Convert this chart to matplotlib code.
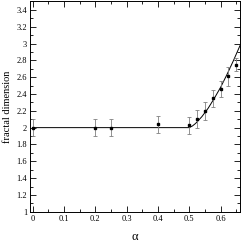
import numpy as np
import matplotlib
matplotlib.use('Agg')
import matplotlib.pyplot as plt
from matplotlib.ticker import MultipleLocator, FuncFormatter

plt.rcParams['font.family'] = ['Liberation Serif', 'DejaVu Serif']

# measured points
alpha = [0.0, 0.2, 0.25, 0.4, 0.5, 0.525, 0.55, 0.575, 0.6, 0.625, 0.65]
dim = [2.0, 2.0, 2.0, 2.04, 2.03, 2.10, 2.20, 2.35, 2.46, 2.61, 2.75]
dim_err = [0.1, 0.1, 0.1, 0.1, 0.1, 0.11, 0.11, 0.1, 0.1, 0.11, 0.08]

# fitted curve
line_alpha = [0.0, 0.5, 0.51, 0.52, 0.54, 0.56, 0.58, 0.60, 0.62, 0.64, 0.66, 0.665]
line_dim = [2.0, 2.0, 2.02, 2.05, 2.13, 2.23, 2.35, 2.48, 2.63, 2.79, 2.96, 3.0]

fig = plt.figure(figsize=(2.42, 2.42), dpi=100)
ax = fig.add_axes([0.124, 0.125, 0.868, 0.869])

ax.plot(line_alpha, line_dim, color='black', lw=0.7)
ax.errorbar(alpha, dim, yerr=dim_err, fmt='s', ms=1.6, color='black',
            ecolor='#808080', elinewidth=0.6, capsize=1.5, capthick=0.6)

ax.set_xlim(-0.0086, 0.662)
ax.set_ylim(1.0, 3.5)

ax.xaxis.set_major_locator(MultipleLocator(0.1))
ax.xaxis.set_minor_locator(MultipleLocator(0.05))
ax.yaxis.set_major_locator(MultipleLocator(0.2))
ax.yaxis.set_minor_locator(MultipleLocator(0.1))
ax.xaxis.set_major_formatter(FuncFormatter(lambda v, p: '%g' % round(v, 2)))
ax.yaxis.set_major_formatter(FuncFormatter(lambda v, p: '%g' % round(v, 2)))

ax.tick_params(which='both', direction='in', top=True, right=True,
               labelsize=6, width=0.6, pad=2)
ax.tick_params(which='major', length=4)
ax.tick_params(which='minor', length=2)
for s in ax.spines.values():
    s.set_linewidth(0.7)

ax.set_xlabel('α', fontsize=9, labelpad=6)
ax.set_ylabel('fractal dimension', fontsize=7.5, labelpad=3)

fig.savefig('out.png', dpi=100)
